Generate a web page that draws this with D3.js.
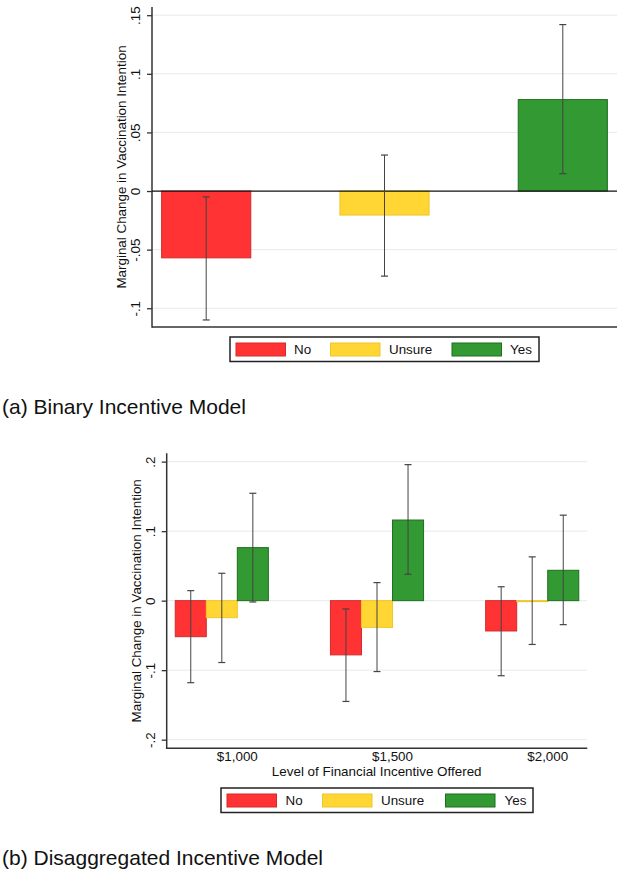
<!DOCTYPE html>
<html>
<head>
<meta charset="utf-8">
<script src="https://cdn.jsdelivr.net/npm/d3@7"></script>
<style>
  html, body { margin: 0; padding: 0; background: #fff; }
  svg { display: block; font-family: "Liberation Sans", Arial, sans-serif; }
</style>
</head>
<body>
<svg id="chart" width="625" height="876"></svg>
<script>
// ---------- DATA ----------
const categories = ["No", "Unsure", "Yes"];
// Panel (a): Binary incentive model
const valuesA = [-0.057, -0.0205, 0.078];
const lowerA  = [-0.110, -0.0726, 0.0148];
const upperA  = [-0.005, 0.0307, 0.142];
const ticksA  = [-0.1, -0.05, 0, 0.05, 0.1, 0.15];
const tickLabelsA = ["-.1", "-.05", "0", ".05", ".1", ".15"];

// Panel (b): Disaggregated incentive model
const groupsB = ["$1,000", "$1,500", "$2,000"];
const noB       = [-0.0518, -0.078, -0.0436];
const noLowB    = [-0.118, -0.145, -0.108];
const noHighB   = [0.0144, -0.012, 0.020];
const unsureB     = [-0.0245, -0.0384, -0.0014];
const unsureLowB  = [-0.089, -0.102, -0.063];
const unsureHighB = [0.0394, 0.026, 0.063];
const yesB      = [0.0763, 0.116, 0.0437];
const yesLowB   = [-0.0019, 0.038, -0.0345];
const yesHighB  = [0.1545, 0.1957, 0.123];
const ticksB = [-0.2, -0.1, 0, 0.1, 0.2];
const tickLabelsB = ["-.2", "-.1", "0", ".1", ".2"];

const fills   = ["#ff3333", "#ffd633", "#339933"];
const strokes = ["#d42a2a", "#eec52c", "#1f6e1f"];

const yTitle = "Marginal Change in Vaccination Intention";
const xTitleB = "Level of Financial Incentive Offered";
const captionA = "(a) Binary Incentive Model";
const captionB = "(b) Disaggregated Incentive Model";

// ---------- DRAW ----------
const svg = d3.select("#chart");
const FS = 13.4;
const axisColor = "#333";
const gridColor = "#e4eaed";
const errColor = "#444";

function yAxisBlock(g, y, left, right, top, bottom, ticks, labels, zeroBlack) {
  g.selectAll(".grid").data(ticks.filter(t => !(zeroBlack && t === 0))).join("line")
    .attr("x1", left).attr("x2", right)
    .attr("y1", d => y(d)).attr("y2", d => y(d))
    .attr("stroke", gridColor).attr("stroke-width", 1);
  const ax = g.append("g").attr("transform", `translate(${left},0)`)
    .call(d3.axisLeft(y).tickValues(ticks).tickSize(5).tickFormat((d, i) => labels[i]));
  ax.select(".domain").remove();
  ax.selectAll(".tick line").attr("stroke", axisColor).attr("stroke-width", 1.3);
  ax.selectAll(".tick text")
    .attr("x", 0).attr("y", 0).attr("dy", "0.35em")
    .attr("transform", "translate(-16.5,0) rotate(-90)")
    .attr("text-anchor", "middle")
    .attr("font-size", FS).attr("fill", "#111")
    .attr("font-family", "Liberation Sans, Arial, sans-serif");
  g.append("line").attr("x1", left).attr("x2", left).attr("y1", top).attr("y2", bottom + 0.75)
    .attr("stroke", axisColor).attr("stroke-width", 1.5);
  g.append("line").attr("x1", left).attr("x2", right).attr("y1", bottom).attr("y2", bottom)
    .attr("stroke", axisColor).attr("stroke-width", 1.5);
  g.append("text")
    .attr("transform", `translate(${left - 30.5},${(top + bottom) / 2}) rotate(-90)`)
    .attr("text-anchor", "middle").attr("dy", "0.35em")
    .attr("font-size", FS).attr("fill", "#111").text(yTitle);
}

function errBar(g, x, lo, hi, y) {
  g.append("line").attr("x1", x).attr("x2", x).attr("y1", y(lo)).attr("y2", y(hi))
    .attr("stroke", errColor).attr("stroke-width", 1);
  [lo, hi].forEach(v => g.append("line")
    .attr("x1", x - 3.5).attr("x2", x + 3.5).attr("y1", y(v)).attr("y2", y(v))
    .attr("stroke", errColor).attr("stroke-width", 1.2));
}

function legend(g, x0, y0, w, h, sw, labelX) {
  g.append("rect").attr("x", x0).attr("y", y0).attr("width", w).attr("height", h)
    .attr("fill", "#fff").attr("stroke", "#222").attr("stroke-width", 1.5);
  categories.forEach((c, i) => {
    g.append("rect").attr("x", sw[i]).attr("y", y0 + 6).attr("width", 49.5).attr("height", 13)
      .attr("fill", fills[i]).attr("stroke", strokes[i]).attr("stroke-width", 1);
    g.append("text").attr("x", labelX[i]).attr("y", y0 + h / 2).attr("dy", "0.36em")
      .attr("font-size", FS).attr("fill", "#111").text(c);
  });
}

// ----- Panel A -----
(function () {
  const left = 152, right = 617, top = 7, bottom = 327;
  const g = svg.append("g");
  const y = d3.scaleLinear().domain([-0.116, 0.157]).range([bottom, top]);
  const x = d3.scaleBand().domain(categories).range([left, right]).paddingInner(0.5).paddingOuter(0.054);
  yAxisBlock(g, y, left, right, top, bottom, ticksA, tickLabelsA, true);
  categories.forEach((c, i) => {
    const v = valuesA[i];
    g.append("rect").attr("x", x(c)).attr("width", x.bandwidth())
      .attr("y", y(Math.max(0, v))).attr("height", Math.abs(y(v) - y(0)))
      .attr("fill", fills[i]).attr("stroke", strokes[i]).attr("stroke-width", 1);
  });
  g.append("line").attr("x1", left).attr("x2", right).attr("y1", y(0)).attr("y2", y(0))
    .attr("stroke", "#111").attr("stroke-width", 1.2);
  categories.forEach((c, i) => errBar(g, x(c) + x.bandwidth() / 2, lowerA[i], upperA[i], y));
  legend(g, 230, 337, 309, 24.5, [236, 330.5, 452], [294, 389, 510]);
  g.append("text").attr("x", 2).attr("y", 414).attr("font-size", 21).attr("fill", "#111").text(captionA);
})();

// ----- Panel B -----
(function () {
  const left = 166.7, right = 587.3, top = 453.3, bottom = 748.3;
  const g = svg.append("g");
  const y = d3.scaleLinear().domain([-0.2124, 0.212]).range([bottom, top]);
  const x0 = d3.scaleBand().domain(groupsB).range([left, right]).paddingInner(0.4).paddingOuter(0.055);
  const x1 = d3.scaleBand().domain(categories).range([0, x0.bandwidth()]).padding(0);
  yAxisBlock(g, y, left, right, top, bottom, ticksB, tickLabelsB, false);
  const series = [
    { v: noB, lo: noLowB, hi: noHighB },
    { v: unsureB, lo: unsureLowB, hi: unsureHighB },
    { v: yesB, lo: yesLowB, hi: yesHighB }
  ];
  groupsB.forEach((grp, gi) => {
    categories.forEach((c, si) => {
      const v = series[si].v[gi];
      g.append("rect").attr("x", x0(grp) + x1(c)).attr("width", x1.bandwidth())
        .attr("y", y(Math.max(0, v))).attr("height", Math.max(1, Math.abs(y(v) - y(0))))
        .attr("fill", fills[si]).attr("stroke", strokes[si]).attr("stroke-width", 1);
    });
  });
  groupsB.forEach((grp, gi) => {
    categories.forEach((c, si) => {
      errBar(g, x0(grp) + x1(c) + x1.bandwidth() / 2, series[si].lo[gi], series[si].hi[gi], y);
    });
  });
  groupsB.forEach(grp => {
    g.append("text").attr("x", x0(grp) + x1("Yes")).attr("y", 756).attr("dy", "0.36em")
      .attr("text-anchor", "middle").attr("font-size", FS).attr("fill", "#111").text(grp);
  });
  g.append("text").attr("x", 376.7).attr("y", 771).attr("dy", "0.36em")
    .attr("text-anchor", "middle").attr("font-size", FS).attr("fill", "#111").text(xTitleB);
  legend(g, 221, 788, 312, 24.5, [227, 322.5, 445.5], [285.5, 381, 504.5]);
  g.append("text").attr("x", 2).attr("y", 865).attr("font-size", 21).attr("fill", "#111").text(captionB);
})();
</script>
</body>
</html>
